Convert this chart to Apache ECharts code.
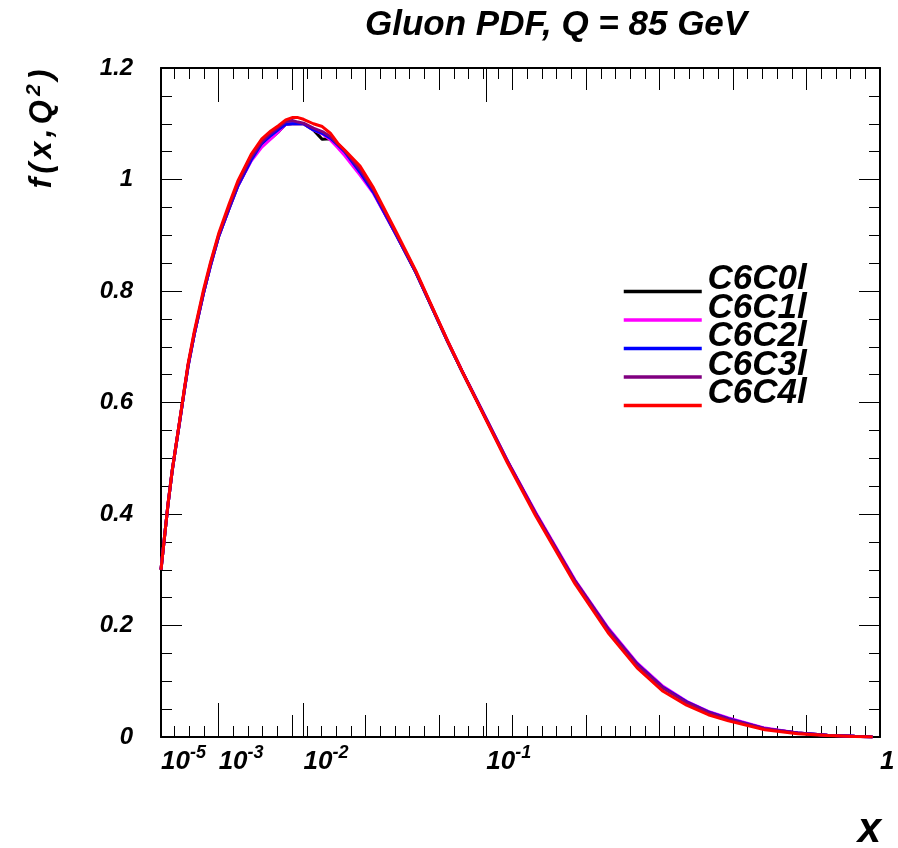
<!DOCTYPE html>
<html>
<head>
<meta charset="utf-8">
<script src="https://cdn.jsdelivr.net/npm/echarts@6/dist/echarts.min.js"></script>
<style>
  html, body { margin: 0; padding: 0; background: #ffffff; }
  #chart { width: 898px; height: 848px; }
</style>
</head>
<body>
<div id="chart"></div>
<script>
// Bjorken x sampling points shared by all PDF sets
const xValues = [
  1e-5, 2e-5, 3e-5, 5e-5, 7e-5, 1e-4, 1.5e-4, 2e-4, 3e-4, 5e-4, 7e-4,
  1e-3, 1.5e-3, 2e-3, 3e-3, 4e-3, 5e-3, 6e-3, 7e-3, 8e-3, 9e-3,
  1e-2, 1.2e-2, 1.4e-2, 1.6e-2, 1.8e-2, 2e-2, 2.5e-2, 3e-2, 4e-2, 5e-2, 6e-2, 7e-2, 8e-2,
  0.1, 0.12, 0.15, 0.2, 0.25, 0.3, 0.35, 0.4, 0.45, 0.5, 0.6, 0.7, 0.8, 0.9, 0.97
];

// gluon density f(x, Q^2) at Q = 85 GeV for each fit
const C6C0l = [
  0.300, 0.369, 0.417, 0.478, 0.516, 0.561, 0.620, 0.666, 0.723, 0.796, 0.845,
  0.898, 0.949, 0.988, 1.035, 1.063, 1.074, 1.086, 1.099, 1.100, 1.100,
  1.100, 1.089, 1.072, 1.073, 1.062, 1.050, 1.013, 0.977, 0.900, 0.833, 0.767, 0.708, 0.657,
  0.570, 0.494, 0.401, 0.280, 0.194, 0.131, 0.089, 0.063, 0.045, 0.033, 0.015, 0.007, 0.003, 0.0012, 0.0002
];
const C6C1l = [
  0.300, 0.369, 0.417, 0.478, 0.516, 0.561, 0.620, 0.666, 0.723, 0.796, 0.845,
  0.898, 0.949, 0.988, 1.033, 1.058, 1.073, 1.086, 1.099, 1.100, 1.100,
  1.100, 1.089, 1.082, 1.071, 1.057, 1.043, 1.008, 0.975, 0.900, 0.834, 0.768, 0.709, 0.658,
  0.571, 0.495, 0.403, 0.282, 0.196, 0.133, 0.091, 0.064, 0.046, 0.034, 0.016, 0.007, 0.003, 0.0012, 0.0002
];
const C6C2l = [
  0.300, 0.369, 0.417, 0.478, 0.516, 0.561, 0.620, 0.666, 0.723, 0.796, 0.845,
  0.898, 0.949, 0.988, 1.035, 1.065, 1.079, 1.090, 1.099, 1.100, 1.100,
  1.100, 1.089, 1.083, 1.074, 1.062, 1.050, 1.013, 0.977, 0.900, 0.833, 0.767, 0.708, 0.657,
  0.570, 0.494, 0.401, 0.280, 0.194, 0.131, 0.089, 0.063, 0.045, 0.033, 0.015, 0.007, 0.003, 0.0012, 0.0002
];
const C6C3l = [
  0.300, 0.369, 0.417, 0.478, 0.516, 0.562, 0.621, 0.668, 0.725, 0.798, 0.848,
  0.900, 0.952, 0.992, 1.040, 1.068, 1.083, 1.094, 1.104, 1.106, 1.103,
  1.101, 1.092, 1.086, 1.077, 1.064, 1.052, 1.018, 0.981, 0.902, 0.834, 0.767, 0.708, 0.657,
  0.570, 0.494, 0.401, 0.280, 0.193, 0.130, 0.088, 0.062, 0.044, 0.032, 0.015, 0.007, 0.003, 0.0012, 0.0002
];
const C6C4l = [
  0.300, 0.369, 0.418, 0.479, 0.517, 0.563, 0.623, 0.670, 0.728, 0.802, 0.851,
  0.903, 0.957, 0.997, 1.045, 1.073, 1.087, 1.097, 1.107, 1.111, 1.111,
  1.108, 1.100, 1.095, 1.083, 1.065, 1.053, 1.024, 0.985, 0.905, 0.836, 0.769, 0.709, 0.657,
  0.568, 0.491, 0.397, 0.275, 0.187, 0.124, 0.082, 0.057, 0.040, 0.029, 0.013, 0.006, 0.0025, 0.001, 0.0001
];

const seriesNames = ['C6C0l', 'C6C1l', 'C6C2l', 'C6C3l', 'C6C4l'];
const seriesValues = [C6C0l, C6C1l, C6C2l, C6C3l, C6C4l];
const seriesColors = ['#000000', '#ff00ff', '#0000ff', '#800080', '#ff0000'];

// labelled positions on the x axis and the long ticks that mark decades
const xLabelValues = [1e-5, 1e-3, 1e-2, 1e-1, 1];
const xDecadeTicks = [1e-3, 1e-2, 1e-1];

const FONT = '"Liberation Sans", Arial, Helvetica, sans-serif';

// the x axis is linear in x^(1/3)
const toAxis = (x) => Math.cbrt(x);
const tMin = toAxis(1e-5);
const tMax = 1;

// evenly spaced ticks on the x^(1/3) scale: small every 0.02, medium every 0.1
const smallTicks = [];
for (let k = 2; k <= 49; k++) smallTicks.push(+(k * 0.02).toFixed(2));
const mediumTicks = [];
for (let k = 1; k <= 9; k++) mediumTicks.push(+(k * 0.1).toFixed(1));
const decadeTicks = xDecadeTicks.map(toAxis);

const boldItalic = { fontFamily: FONT, fontWeight: 'bold', fontStyle: 'italic', color: '#000' };

function tickAxis(position, values, length) {
  return {
    type: 'value', gridIndex: 0, position: position,
    min: tMin, max: tMax,
    axisLine: { show: false, onZero: false },
    axisTick: { show: true, inside: true, length: length, customValues: values,
                lineStyle: { color: '#000', width: 1 } },
    axisLabel: { show: false },
    splitLine: { show: false }
  };
}

const mainX = {
  type: 'value', gridIndex: 0, position: 'bottom',
  min: tMin, max: tMax,
  axisLine: { show: true, onZero: false, lineStyle: { color: '#000', width: 2 } },
  axisTick: { show: true, inside: true, length: 11, customValues: smallTicks,
              lineStyle: { color: '#000', width: 1 } },
  axisLabel: {
    show: true, customValues: xLabelValues.map(toAxis),
    align: 'left', margin: 7, showMinLabel: true, showMaxLabel: true, hideOverlap: false,
    formatter: (t) => {
      const x = Math.pow(t, 3);
      if (Math.abs(x - 1) < 1e-9) return '{n|1}';
      return '{n|10}{s|' + Math.round(Math.log10(x)) + '}';
    },
    rich: {
      n: Object.assign({}, boldItalic, { fontSize: 26, lineHeight: 36 }),
      s: Object.assign({}, boldItalic, { fontSize: 18, lineHeight: 18, verticalAlign: 'top' })
    }
  },
  splitLine: { show: false }
};

const topLine = tickAxis('top', smallTicks, 11);
topLine.axisLine = { show: true, onZero: false, lineStyle: { color: '#000', width: 2 } };

const xAxes = [
  mainX,
  tickAxis('bottom', mediumTicks, 22),
  tickAxis('bottom', decadeTicks, 34),
  topLine,
  tickAxis('top', mediumTicks, 22),
  tickAxis('top', decadeTicks, 34)
];

function yAxisDef(position, withLabels) {
  return {
    type: 'value', gridIndex: 0, position: position,
    min: 0, max: 1.2, interval: 0.2,
    axisLine: { show: true, onZero: false, lineStyle: { color: '#000', width: 2 } },
    axisTick: { show: true, inside: true, length: 21, lineStyle: { color: '#000', width: 1 } },
    minorTick: { show: true, splitNumber: 4, length: 11, lineStyle: { color: '#000', width: 1 } },
    axisLabel: withLabels ? Object.assign({}, boldItalic, {
      fontSize: 24, margin: 28, padding: [3, 0, 0, 0],
      formatter: (v) => String(+v.toFixed(1))
    }) : { show: false },
    splitLine: { show: false }
  };
}

const series = seriesNames.map((name, i) => ({
  name: name,
  type: 'line',
  xAxisIndex: 0, yAxisIndex: 0,
  data: xValues.map((x, j) => [toAxis(x), seriesValues[i][j]]),
  symbol: 'none',
  showSymbol: false,
  color: seriesColors[i],
  lineStyle: { color: seriesColors[i], width: 3 },
  z: 2 + i,
  silent: true
}));

// legend: one component draws the coloured line keys, a second one the names,
// set slightly higher than their keys
const legendKeys = {
  orient: 'vertical', left: 622, top: 280.1, padding: 0,
  itemWidth: 78, itemHeight: 28.5, itemGap: 5.7,
  selectedMode: false, data: seriesNames,
  itemStyle: { opacity: 0 },
  lineStyle: { width: 3.5 },
  formatter: () => '',
  textStyle: { fontSize: 10, lineHeight: 10 }
};
const legendNames = {
  orient: 'vertical', left: 691, top: 262, padding: 0,
  itemWidth: 0, itemHeight: 28.5, itemGap: -6.5,
  selectedMode: false, data: seriesNames,
  itemStyle: { opacity: 0 },
  lineStyle: { opacity: 0, width: 0 },
  textStyle: Object.assign({}, boldItalic, { fontSize: 35, lineHeight: 35 })
};

// axis titles
const spaced = Object.assign({}, boldItalic, { fontSize: 31, lineHeight: 36, padding: [0, 2.2, 0, 2.2] });
const yTitle = {
  type: 'text', x: 42, y: 129, rotation: Math.PI / 2, silent: true,
  style: {
    text: '{c|f}{c|(}{c|x}{c|,}{c|Q}{s|2}{c|)}',
    align: 'center', verticalAlign: 'middle',
    fontFamily: FONT, fontWeight: 'bold', fontStyle: 'italic', fontSize: 31, fill: '#000',
    rich: {
      c: spaced,
      s: Object.assign({}, boldItalic, { fontSize: 21, lineHeight: 22, verticalAlign: 'top', padding: [0, 2, 0, 2] })
    }
  }
};
const xTitle = {
  type: 'text', x: 881, y: 830, silent: true,
  style: {
    text: 'x', align: 'right', verticalAlign: 'middle',
    fontFamily: FONT, fontWeight: 'bold', fontStyle: 'italic', fontSize: 42, fill: '#000'
  }
};

const chart = echarts.init(document.getElementById('chart'), null, { renderer: 'canvas' });
chart.setOption({
  animation: false,
  backgroundColor: '#ffffff',
  title: {
    text: 'Gluon PDF, Q = 85 GeV',
    left: 365, top: 8, padding: 0,
    textStyle: Object.assign({}, boldItalic, { fontSize: 35 })
  },
  legend: [legendKeys, legendNames],
  grid: { left: 161, right: 18, top: 68, bottom: 111, outerBoundsMode: 'none' },
  xAxis: xAxes,
  yAxis: [yAxisDef('left', true), yAxisDef('right', false)],
  graphic: [yTitle, xTitle],
  series: series
});
</script>
</body>
</html>
